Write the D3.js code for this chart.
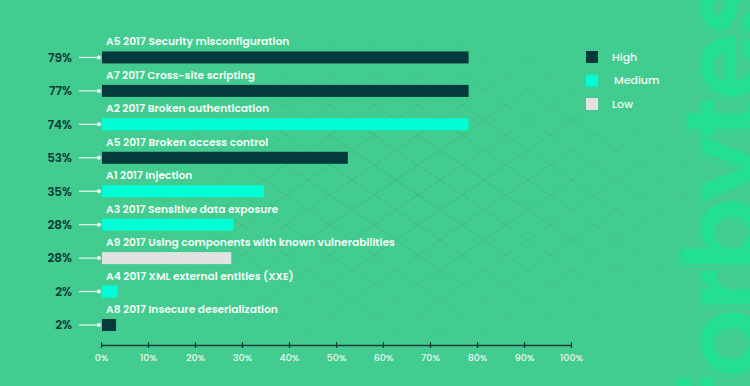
<!DOCTYPE html>
<html><head><meta charset="utf-8">
<script src="https://cdn.jsdelivr.net/npm/d3@7"></script>
<style>
html,body{margin:0;padding:0;background:#43cc90;}
svg{display:block;}
</style></head>
<body><svg id="chart" width="750" height="386"></svg>
<script>
const categories = [
  "A5 2017 Security misconfiguration",
  "A7 2017 Cross-site scripting",
  "A2 2017 Broken authentication",
  "A5 2017 Broken access control",
  "A1 2017 Injection",
  "A3 2017 Sensitive data exposure",
  "A9 2017 Using components with known vulnerabilities",
  "A4 2017 XML external entities (XXE)",
  "A8 2017 Insecure deserialization"
];
const pctLabels = ["79%","77%","74%","53%","35%","28%","28%","2%","2%"];
const barValues = [78, 78, 78, 52.3, 34.5, 28, 27.5, 3.3, 3.0];
const severity = ["High","High","Medium","High","Medium","Medium","Low","Medium","High"];
const legendItems = ["High","Medium","Low"];
const tickValues = [0,10,20,30,40,50,60,70,80,90,100];

const colors = {High:"#053a3c", Medium:"#00fdd6", Low:"#e2e2e2"};
const FONT = "Poppins, 'Open Sans', sans-serif";

const W = 750, H = 386;
const svg = d3.select("#chart");

svg.append("rect").attr("width",W).attr("height",H).attr("fill","#43cc90");

// lattice pattern
const defs = svg.append("defs");
const pat = defs.append("pattern").attr("id","lat").attr("patternUnits","userSpaceOnUse")
  .attr("width",44).attr("height",30);
pat.append("path").attr("d","M0,0 L44,30 M44,0 L0,30").attr("stroke","#2f9f78").attr("stroke-width",0.8).attr("fill","none");
const rg = defs.append("radialGradient").attr("id","fade").attr("cx","0.55").attr("cy","0.5").attr("r","0.5");
rg.append("stop").attr("offset","0").attr("stop-color","#fff").attr("stop-opacity",0.55);
rg.append("stop").attr("offset","1").attr("stop-color","#fff").attr("stop-opacity",0);
defs.append("mask").attr("id","m").append("rect").attr("width",W).attr("height",H).attr("fill","url(#fade)");
svg.append("rect").attr("width",W).attr("height",H).attr("fill","url(#lat)").attr("mask","url(#m)");

// watermark
const wm = svg.append("g").attr("transform","translate(762,196) rotate(-90)");
wm.append("text").attr("x",-3).attr("y",-3).attr("text-anchor","middle")
  .attr("font-family",FONT).attr("font-weight",600).attr("font-size",108).attr("letter-spacing",-3)
  .attr("fill","none").attr("stroke","#2ed792").attr("stroke-width",1.5).text("forbytes");
wm.append("text").attr("x",0).attr("y",0).attr("text-anchor","middle")
  .attr("font-family",FONT).attr("font-weight",600).attr("font-size",108).attr("letter-spacing",-3)
  .attr("fill","#22df91").text("forbytes");

// scales
const x = d3.scaleLinear().domain([0,100]).range([101,571]);
const y = d3.scaleBand().domain(categories.map((d,i)=>i)).range([38,339]);
const barH = 12;
const barY = i => y(i) + y.bandwidth() - barH - 8;

const rows = svg.append("g").selectAll("g").data(categories).join("g");
rows.append("rect")
  .attr("x", x(0)+1)
  .attr("y",(d,i)=>barY(i))
  .attr("width",(d,i)=>x(barValues[i])-x(0))
  .attr("height",barH)
  .attr("fill",(d,i)=>colors[severity[i]]);
rows.append("text")
  .attr("x", x(0)+5)
  .attr("y",(d,i)=>barY(i)-6)
  .attr("font-family",FONT).attr("font-weight",600).attr("font-size",10.7)
  .attr("fill","#f4fbf7").text(d=>d);
rows.append("text")
  .attr("x",72).attr("y",(d,i)=>barY(i)+barH/2)
  .attr("dy","0.36em").attr("text-anchor","end")
  .attr("font-family",FONT).attr("font-weight",600).attr("font-size",12)
  .attr("fill","#0c3b3a").text((d,i)=>pctLabels[i]);
rows.append("line")
  .attr("x1",79).attr("x2",99)
  .attr("y1",(d,i)=>barY(i)+barH/2).attr("y2",(d,i)=>barY(i)+barH/2)
  .attr("stroke","#e6f7ee").attr("stroke-width",1.2);
rows.append("circle")
  .attr("cx",99).attr("cy",(d,i)=>barY(i)+barH/2).attr("r",2)
  .attr("fill","#f2fbf6");

// axis
const axisG = svg.append("g").attr("transform","translate(0,345)")
  .call(d3.axisBottom(x).tickValues(tickValues).tickFormat(d=>d+"%").tickSize(0).tickPadding(9));
axisG.select(".domain").attr("stroke","#0c3b3a").attr("stroke-width",1.3);
axisG.selectAll(".tick line").attr("y1",-3).attr("y2",3).attr("stroke","#0c3b3a").attr("stroke-width",1.2);
axisG.selectAll(".tick text").attr("fill","#eaf8f0").attr("font-family",FONT).attr("font-weight",500).attr("font-size",9.5);

// legend
const lg = svg.append("g").selectAll("g").data(legendItems).join("g")
  .attr("transform",(d,i)=>`translate(586,${51+i*23.5})`);
lg.append("rect").attr("width",12).attr("height",12).attr("fill",d=>colors[d]);
lg.append("text").attr("x",(d,i)=>i===1?28:26).attr("y",6).attr("dy","0.36em")
  .attr("font-family",FONT).attr("font-weight",500).attr("font-size",11)
  .attr("fill","#f4fbf7").text(d=>d);
</script></body></html>
